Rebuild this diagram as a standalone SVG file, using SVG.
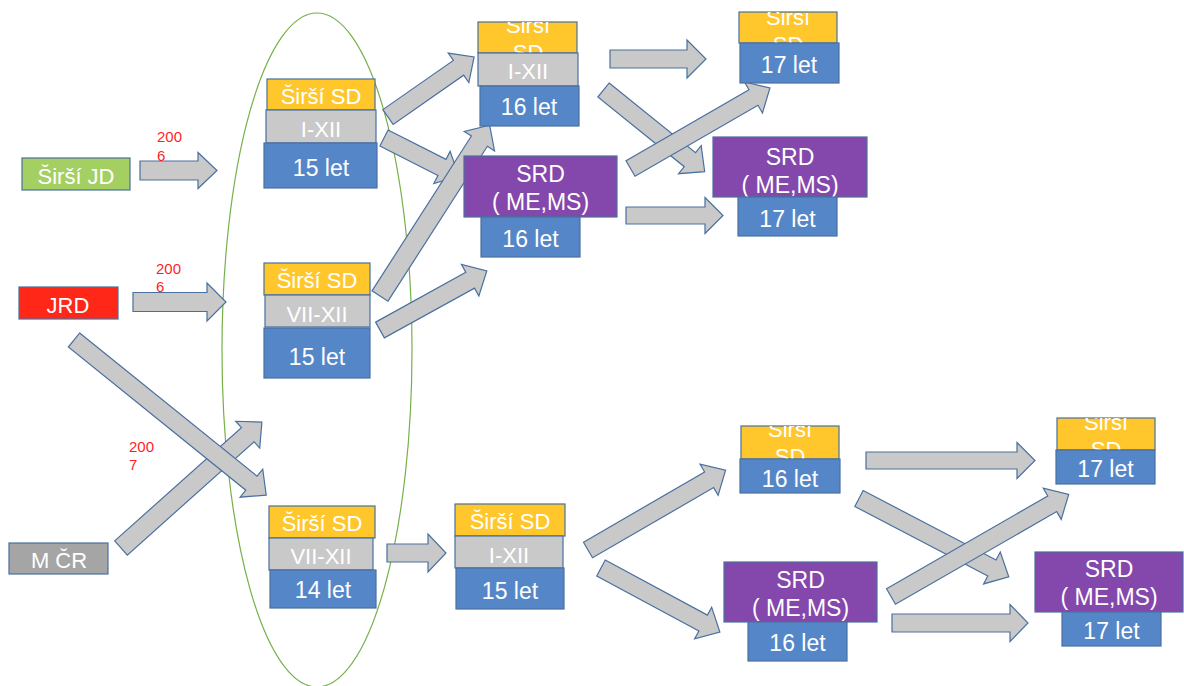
<svg xmlns="http://www.w3.org/2000/svg" width="1184" height="686" viewBox="0 0 1184 686">
<style>
.t{font-family:"Liberation Sans",Arial,sans-serif;font-size:22px;fill:#ffffff;text-anchor:middle}
.tl{font-size:23px}
.r{font-family:"Liberation Sans",Arial,sans-serif;font-size:15px;fill:#ff1f1f}
.arr{fill:#c9c9c9;stroke:#4a70a0;stroke-width:1.2;stroke-linejoin:miter}
.y{fill:#ffc72c;stroke:#4a70a0;stroke-width:1.2}
.g{fill:#c9c9c9;stroke:#4a70a0;stroke-width:1.2}
.b{fill:#5587c8;stroke:#4a70a0;stroke-width:1.2}
.p{fill:#8447ab;stroke:#4a70a0;stroke-width:1.2}
</style>
<defs>
<clipPath id="cA"><rect x="478" y="22" width="99" height="31"/></clipPath>
<clipPath id="cC"><rect x="739" y="12" width="98" height="31"/></clipPath>
<clipPath id="c5"><rect x="741" y="426" width="98" height="33"/></clipPath>
<clipPath id="c7"><rect x="1057" y="418" width="98" height="32"/></clipPath>
</defs>
<rect width="1184" height="686" fill="#ffffff"/>
<ellipse cx="317" cy="350" rx="95" ry="337" fill="none" stroke="#76b04a" stroke-width="1.2"/>
<g id="connectors">
<path class="arr" d="M0,-9.5H58V-18L77,0L58,18V9.5H0Z" transform="translate(140,170.5)"/>
<path class="arr" d="M0,-9.5H74V-19L93,0L74,19V9.5H0Z" transform="translate(133,302)"/>
<path class="arr" d="M0,-9H41V-19L59,0L41,19V9H0Z" transform="translate(387,553)"/>
<path class="arr" d="M0,-8.5H151V-18L169,0L151,18V8.5H0Z" transform="translate(866,460.5)"/>
<path class="arr" d="M0,-9H118V-18.5L136,0L118,18.5V9H0Z" transform="translate(892,623)"/>
<path class="arr" d="M0,-9H77V-19L96,0L77,19V9H0Z" transform="translate(610,59)"/>
<path class="arr" d="M0,-8.5H79V-18L97,0L79,18V8.5H0Z" transform="translate(626,215.5)"/>
<path class="arr" d="M0,-9.5H170V-18L189,0L170,18V9.5H0Z" transform="translate(121,548) rotate(-41.8)"/>
<path class="arr" d="M0,-9H228V-18L247,0L228,18V9H0Z" transform="translate(74,340) rotate(38.9)"/>
<path class="arr" d="M0,-9H86V-18L105,0L86,18V9H0Z" transform="translate(388,117) rotate(-34.9)"/>
<path class="arr" d="M0,-9H65V-18L84,0L65,18V9H0Z" transform="translate(384,138) rotate(26.9)"/>
<path class="arr" d="M0,-9.5H184V-18L203,0L184,18V9.5H0Z" transform="translate(380,296) rotate(-57.3)"/>
<path class="arr" d="M0,-9H103V-18L122,0L103,18V9H0Z" transform="translate(380,330) rotate(-28.9)"/>
<path class="arr" d="M0,-9H111V-18L130,0L111,18V9H0Z" transform="translate(603.5,90) rotate(38.9)"/>
<path class="arr" d="M0,-9H142V-18L161,0L142,18V9H0Z" transform="translate(630.5,168.5) rotate(-30)"/>
<path class="arr" d="M0,-9H140V-18L159,0L140,18V9H0Z" transform="translate(588,550) rotate(-30.1)"/>
<path class="arr" d="M0,-9H116V-18L135,0L116,18V9H0Z" transform="translate(601,568) rotate(28.3)"/>
<path class="arr" d="M0,-9H150V-18L169,0L150,18V9H0Z" transform="translate(859,498.5) rotate(27.6)"/>
<path class="arr" d="M0,-9H186V-18L205,0L186,18V9H0Z" transform="translate(891,596.5) rotate(-29.9)"/>
</g>
<g id="labels">
<text class="r" x="157" y="142">200</text><text class="r" x="157" y="161">6</text>
<text class="r" x="156" y="274">200</text><text class="r" x="156" y="292">6</text>
<text class="r" x="129" y="452">200</text><text class="r" x="129" y="470">7</text>
</g>
<g id="sirsi-jd"><rect x="22" y="158" width="108" height="32" fill="#a4d063" stroke="#4a70a0" stroke-width="1.2"/><text class="t" x="76" y="184">Širší JD</text></g>
<g id="jrd"><rect x="19" y="287" width="99" height="32" fill="#ff2717" stroke="#4a70a0" stroke-width="1.2"/><text class="t" x="68" y="313">JRD</text></g>
<g id="m-cr"><rect x="9" y="543" width="99" height="31" fill="#a5a5a5" stroke="#4a70a0" stroke-width="1.2"/><text class="t" x="59" y="568">M ČR</text></g>
<g id="g1">
<rect class="y" x="267" y="79" width="108" height="31"/><text class="t" x="321" y="104">Širší SD</text>
<rect class="g" x="266" y="110" width="110" height="33"/><text class="t" x="321" y="137">I-XII</text>
<rect class="b" x="264" y="143" width="113" height="45"/><text class="t tl" x="321" y="176">15 let</text>
</g>
<g id="g2">
<rect class="y" x="264" y="263" width="106" height="32"/><text class="t" x="317" y="288">Širší SD</text>
<rect class="g" x="265" y="295" width="105" height="32"/><text class="t" x="317" y="322">VII-XII</text>
<rect class="b" x="264" y="328" width="106" height="50"/><text class="t tl" x="317" y="365">15 let</text>
</g>
<g id="g3">
<rect class="y" x="269" y="506" width="106" height="32"/><text class="t" x="322" y="531">Širší SD</text>
<rect class="g" x="269" y="538" width="104" height="32"/><text class="t" x="321" y="564">VII-XII</text>
<rect class="b" x="270" y="570" width="106" height="38"/><text class="t tl" x="323" y="598">14 let</text>
</g>
<g id="g4">
<rect class="y" x="455" y="504" width="110" height="32"/><text class="t" x="510" y="529">Širší SD</text>
<rect class="g" x="455" y="536" width="108" height="32"/><text class="t" x="509" y="563">I-XII</text>
<rect class="b" x="456" y="568" width="108" height="41"/><text class="t tl" x="510" y="599">15 let</text>
</g>
<g id="gA">
<rect class="y" x="478" y="22" width="99" height="31"/>
<g clip-path="url(#cA)"><text class="t" x="528" y="33">Širší</text><text class="t" x="528" y="60">SD</text></g>
<rect class="g" x="478" y="53" width="100" height="33"/><text class="t" x="528" y="79">I-XII</text>
<rect class="b" x="480" y="86" width="99" height="40"/><text class="t tl" x="529" y="115">16 let</text>
</g>
<g id="gB">
<rect class="p" x="464" y="156" width="153" height="61"/><text class="t tl" x="540.5" y="182">SRD</text><text class="t tl" x="540.5" y="210">( ME,MS)</text>
<rect class="b" x="481" y="217" width="99" height="40"/><text class="t tl" x="530.5" y="247">16 let</text>
</g>
<g id="gC">
<rect class="y" x="739" y="12" width="98" height="31"/>
<g clip-path="url(#cC)"><text class="t" x="788" y="25">Širší</text><text class="t" x="788" y="52">SD</text></g>
<rect class="b" x="740" y="43" width="99" height="40"/><text class="t tl" x="789" y="73">17 let</text>
</g>
<g id="gD">
<rect class="p" x="713" y="137" width="154" height="60"/><text class="t tl" x="790" y="165">SRD</text><text class="t tl" x="790" y="193">( ME,MS)</text>
<rect class="b" x="738" y="197" width="99" height="39"/><text class="t tl" x="787.5" y="227">17 let</text>
</g>
<g id="g5">
<rect class="y" x="741" y="426" width="98" height="33"/>
<g clip-path="url(#c5)"><text class="t" x="790" y="437">Širší</text><text class="t" x="790" y="464">SD</text></g>
<rect class="b" x="740" y="459" width="100" height="34"/><text class="t tl" x="790" y="487">16 let</text>
</g>
<g id="g6">
<rect class="p" x="724" y="562" width="153" height="60"/><text class="t tl" x="800.5" y="588">SRD</text><text class="t tl" x="800.5" y="616">( ME,MS)</text>
<rect class="b" x="748" y="622" width="99" height="39"/><text class="t tl" x="797.5" y="651">16 let</text>
</g>
<g id="g7">
<rect class="y" x="1057" y="418" width="98" height="32"/>
<g clip-path="url(#c7)"><text class="t" x="1106" y="430">Širší</text><text class="t" x="1106" y="457">SD</text></g>
<rect class="b" x="1056" y="450" width="99" height="34"/><text class="t tl" x="1105.5" y="477">17 let</text>
</g>
<g id="g8">
<rect class="p" x="1035" y="552" width="148" height="60"/><text class="t tl" x="1109" y="577">SRD</text><text class="t tl" x="1109" y="605">( ME,MS)</text>
<rect class="b" x="1062" y="612" width="99" height="34"/><text class="t tl" x="1111.5" y="639">17 let</text>
</g>
</svg>
